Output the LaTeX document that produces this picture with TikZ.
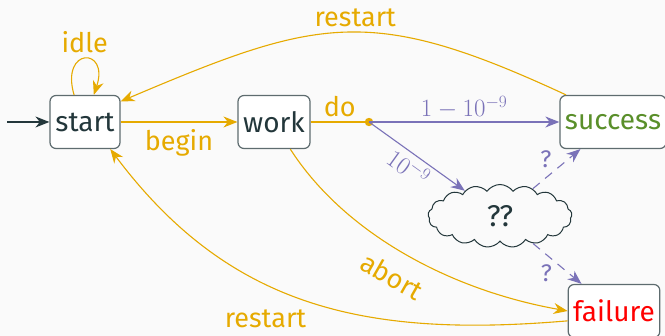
\documentclass[tikz,border=0pt]{standalone}
\usepackage{fontspec}
\setmainfont{Fira Sans}
\usetikzlibrary{arrows.meta,shapes.symbols}
\definecolor{bgc}{HTML}{FAFAFA}
\definecolor{tealc}{HTML}{23373B}
\definecolor{bordc}{HTML}{5E6C6F}
\definecolor{yel}{HTML}{E6AA00}
\definecolor{pur}{HTML}{7A72B8}
\definecolor{grn}{HTML}{5A8F2A}
\definecolor{redc}{HTML}{FF0000}
\tikzset{
  statebox/.style={draw=bordc, line width=1.2pt, rounded corners=6pt, fill=white,
    minimum height=53pt, inner xsep=5pt, text=tealc,
    font=\fontsize{28}{32}\selectfont},
  tip/.style={-{Stealth[length=14pt,width=11pt,inset=4.5pt]}},
  yedge/.style={draw=yel, line width=1.1pt, tip},
  pedge/.style={draw=pur, line width=1.1pt, tip},
  ylab/.style={text=yel, font=\fontsize{27}{30}\selectfont},
  plab/.style={text=pur, font=\fontsize{24}{28}\selectfont},
}
\begin{document}
\begin{tikzpicture}[x=1pt,y=1pt]
\fill[bgc] (0,0) rectangle (665,-336);
\useasboundingbox (0,0) rectangle (665,-336);
\node[statebox, minimum width=70pt] (start) at (85,-122) {start};
\node[statebox, minimum width=72pt] (work) at (274,-122) {work};
\node[statebox, minimum width=102pt, text=grn] (success) at (613,-122) {success};
\node[statebox, minimum width=90pt, text=redc] (failure) at (614,-311) {failure};
\node[draw=tealc, line width=1pt, cloud, cloud puffs=17, cloud puff arc=110, aspect=2.3,
  minimum width=144pt, minimum height=63pt, inner sep=0pt, text=tealc,
  font=\fontsize{30}{34}\selectfont] (cloud) at (500,-216) {??};
\coordinate (init) at (7,-122);
\fill[yel] (369,-122) circle (4.2pt);
\coordinate (do) at (369,-122);
% initial
\draw[draw=tealc, line width=1.2pt, tip] (init) -- (start.west);
% idle loop
\draw[yedge] (start.112) .. controls +(-14,48) and +(16,48) .. (start.72)
  node[ylab, pos=0.5, above=2pt] {idle};
% begin
\draw[yedge] (start.east) -- (work.west) node[ylab, midway, below=4pt] {begin};
% do
\draw[draw=yel, line width=1.1pt] (work.east) -- (do) node[ylab, midway, above=1pt] {do};
% probabilistic
\draw[pedge] (do) -- (success.west) node[plab, midway, above=0pt] {$1-10^{-9}$};
\draw[pedge] (do) -- (cloud) node[plab, midway, sloped, below=0pt] {$10^{-9}$};
\draw[pedge, dash pattern=on 9pt off 7pt] (cloud) -- (success)
  node[plab, pos=0.45, above left=-1pt] {?};
\draw[pedge, dash pattern=on 9pt off 7pt] (cloud) -- (failure)
  node[plab, pos=0.45, below left=-1pt] {?};
% restart top
\draw[yedge] (success.150) .. controls +(-196,91) and +(198,84) .. (start.30)
  node[ylab, pos=0.47, above=2pt] {restart};
% abort
\draw[yedge] (work.-59) .. controls +(54,-84) and +(-118,21) .. (failure.west)
  node[ylab, pos=0.5, sloped, below=12pt] {abort};
% restart bottom
\draw[yedge] (failure.192) .. controls +(-200,-17) and +(120,-160) .. (start.-47)
  node[ylab, pos=0.6, yshift=-35pt] {restart};
\end{tikzpicture}
\end{document}
